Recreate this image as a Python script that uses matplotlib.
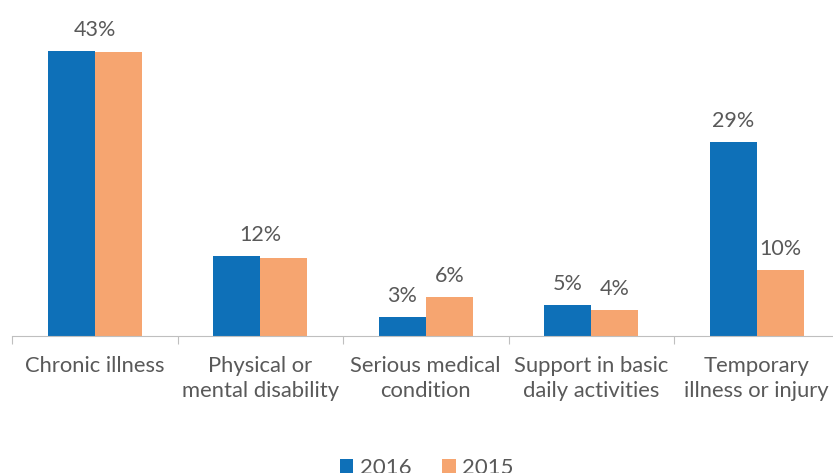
import matplotlib.pyplot as plt
import numpy as np

categories = ['Chronic illness', 'Physical or\nmental disability', 'Serious medical\ncondition',
              'Support in basic\ndaily activities', 'Temporary\nillness or injury']
vals_2016 = [43.0, 12.1, 2.9, 4.7, 29.3]
vals_2015 = [42.8, 11.8, 5.9, 3.9, 10.0]
# (text, x offset in bar units, value used for height)
labels = [('43%', 0.0, 43.0), ('12%', 0.0, 12.1), ('3%', -1, 2.9), ('6%', 1, 5.9),
          ('5%', -1, 4.7), ('4%', 1, 3.9), ('29%', -1, 29.3), ('10%', 1, 10.0)]
label_cat = [0, 1, 2, 2, 3, 3, 4, 4]

blue = '#0E70B8'
orange = '#F6A570'
grey_txt = '#595959'

plt.rcParams['font.family'] = ['Lato', 'DejaVu Sans']

W, H = 833, 473
fig = plt.figure(figsize=(W / 100, H / 100), dpi=100)
# axes in pixel coords: left 12, right 839.5, baseline 336, top 4.5
ax = fig.add_axes([12 / W, (H - 336) / H, 827.5 / W, 331.5 / H])

x = np.arange(len(categories))
w = 0.285
ax.bar(x - w / 2, vals_2016, w, color=blue, label='2016')
ax.bar(x + w / 2, vals_2015, w, color=orange, label='2015')

for (txt, off, v), c in zip(labels, label_cat):
    ax.annotate(txt, (x[c] + off * w / 2, v), xytext=(0, 8), textcoords='offset points',
                ha='center', va='bottom', fontsize=15.5, color=grey_txt)

ax.set_xlim(-0.5, 4.5)
ax.set_ylim(0, 50)
ax.set_yticks([])
for s in ['top', 'right', 'left']:
    ax.spines[s].set_visible(False)
ax.spines['bottom'].set_color('#BFBFBF')
ax.set_xticks(np.arange(-0.5, 5, 1), minor=False)
ax.set_xticklabels([])
ax.tick_params(axis='x', length=6, color='#BFBFBF', direction='out')
for i, c in enumerate(categories):
    ax.text(x[i], -3.0, c, ha='center', va='top', fontsize=15.8, color=grey_txt,
            linespacing=1.32)

ax.legend(loc='lower center', bbox_to_anchor=(0.5 + 1 / 827.5, -0.455), ncol=2, frameon=False,
          fontsize=16, handlelength=0.6, handleheight=0.6, handletextpad=0.3,
          columnspacing=1.4, labelcolor=grey_txt, borderaxespad=0)

fig.savefig('out.png', dpi=100)
